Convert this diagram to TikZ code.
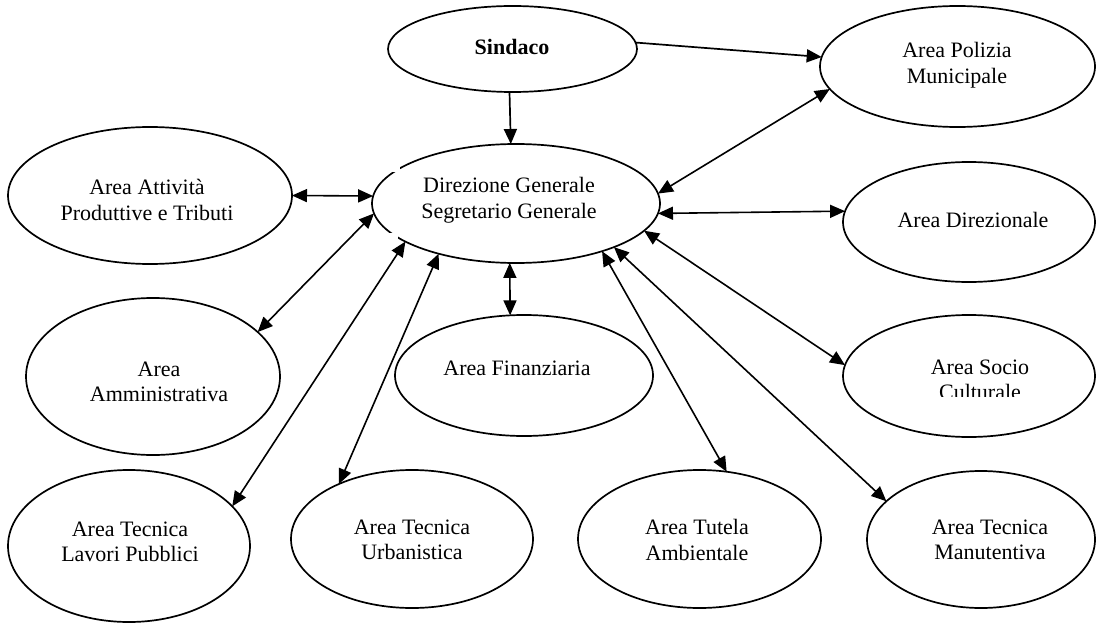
\documentclass[tikz,border=0pt]{standalone}
\usepackage{fontspec}
\setmainfont{Liberation Serif}
\usetikzlibrary{shapes.geometric,arrows.meta}
\begin{document}
\begin{tikzpicture}[x=1pt,y=-1pt,
  ell/.style={ellipse, draw, line width=1.7pt, inner sep=0pt, outer sep=0pt},
  txt/.style={align=center, inner sep=0pt, font=\fontsize{22}{25.5}\selectfont},
  conn/.style={line width=1.7pt, -{Triangle[length=15pt,width=13pt]}},
  both/.style={line width=1.6pt, {Triangle[length=15pt,width=13pt]}-{Triangle[length=15pt,width=13pt]}}]
\useasboundingbox (0,0) rectangle (1097,623);
% ellipses
\node[ell, minimum width=249pt, minimum height=86pt] (sin) at (512.5,49) {};
\node[ell, minimum width=275pt, minimum height=121pt] (pol) at (957.5,66.5) {};
\node[ell, minimum width=284pt, minimum height=137pt] (att) at (150,195.5) {};
\node[ell, minimum width=288pt, minimum height=119pt] (dir) at (516,203.5) {};
\node[ell, minimum width=252pt, minimum height=120pt] (dzn) at (969,222) {};
\node[ell, minimum width=254pt, minimum height=157pt] (amm) at (153,376.5) {};
\node[ell, minimum width=258pt, minimum height=121pt] (fin) at (524,375.5) {};
\node[ell, minimum width=252pt, minimum height=122pt] (soc) at (969,376) {};
\node[ell, minimum width=242pt, minimum height=152pt] (lav) at (129,546) {};
\node[ell, minimum width=242pt, minimum height=138pt] (urb) at (412,539) {};
\node[ell, minimum width=243pt, minimum height=138pt] (tut) at (699.5,539) {};
\node[ell, minimum width=228pt, minimum height=137pt] (man) at (981,539.5) {};
% small gaps in the outline of the central ellipse
\fill[white] (389,163) rectangle (400,172);
\fill[white] (389,233) rectangle (398,242);
% texts
\node[txt, font=\fontsize{22}{25.5}\selectfont\bfseries] (tsin) at (512,47) {Sindaco};
\node[txt] (tpol) at (957,65) {Area Polizia\\Municipale};
\node[txt] (tatt) at (147,200) {Area Attività\\Produttive e Tributi};
\node[txt] (tdir) at (509,200) {Direzione Generale\\Segretario Generale};
\node[txt] (tdzn) at (973,220) {Area Direzionale};
\node[txt] (tamm) at (159,382) {Area\\Amministrativa};
\node[txt] (tfin) at (517,368) {Area Finanziaria};
\begin{scope}
\clip (850,330) rectangle (1097,396.5);
\node[txt] (tsoc) at (980,380) {Area Socio\\Culturale};
\end{scope}
\node[txt] (tlav) at (130,542) {Area Tecnica\\Lavori Pubblici};
\node[txt] (turb) at (412,540) {Area Tecnica\\Urbanistica};
\node[txt] (ttut) at (697,540) {Area Tutela\\Ambientale};
\node[txt] (tman) at (990,540) {Area Tecnica\\Manutentiva};
% connectors
\draw[conn] (sin.3.7) -- (pol.176.5);
\draw[conn] (sin.266.7) -- (dir.95.8);
\draw[both] (att.-0.6) -- (dir.177.4);
\draw[both] (amm.23.9) -- (dir.184.1);
\draw[both] (lav.21.7) -- (dir.199.9);
\draw[both] (urb.143.5) -- (dir.213.9);
\draw[both] (fin.103) -- (dir.264.2);
\draw[both] (tut.68.3) -- (dir.331.9);
\draw[both] (man.158) -- (dir.336.6);
\draw[both] (soc.175.9) -- (dir.348.2);
\draw[both] (dzn.175.9) -- (dir.356.2);
\draw[both] (pol.190.9) -- (dir.4.2);
\end{tikzpicture}
\end{document}
